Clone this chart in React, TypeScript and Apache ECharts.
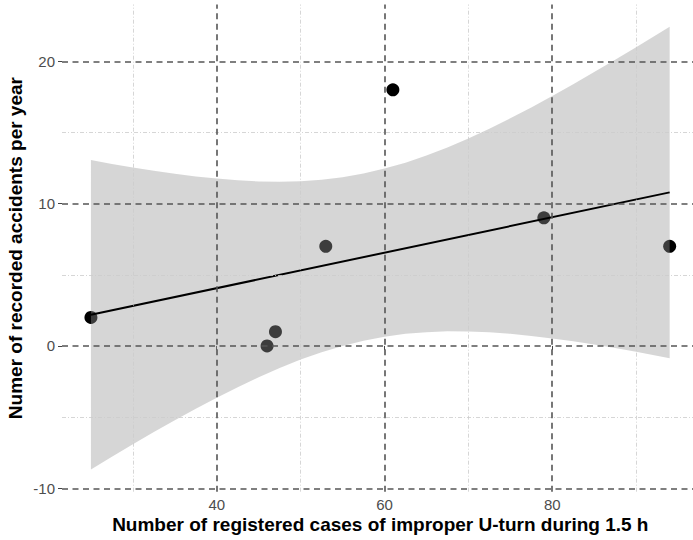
import React, { useEffect, useRef } from "react";
import * as echarts from "echarts";

// Observed points
const pointX = [25, 46, 47, 53, 61, 79, 94];
const pointY = [2, 0, 1, 7, 18, 9, 7];

// Fitted line end points
const fitX = [25, 94];
const fitY = [2.19, 10.79];

// Confidence band
const bandX = [25, 27.5, 30, 32.5, 35, 37.5, 40, 42.5, 45, 47.5, 50, 52.5, 55, 57.5, 60, 62.5, 65, 67.5, 70, 72.5, 75, 77.5, 80, 82.5, 85, 87.5, 90, 92, 94];
const bandLower = [-8.68, -7.79, -6.91, -6.05, -5.22, -4.41, -3.64, -2.9, -2.2, -1.55, -0.96, -0.44, 0.0, 0.36, 0.65, 0.85, 0.97, 1.03, 1.02, 0.96, 0.85, 0.7, 0.53, 0.33, 0.1, -0.15, -0.41, -0.63, -0.86];
const bandUpper = [13.06, 12.79, 12.54, 12.31, 12.1, 11.91, 11.76, 11.64, 11.56, 11.54, 11.58, 11.68, 11.86, 12.12, 12.46, 12.88, 13.38, 13.95, 14.58, 15.26, 15.99, 16.76, 17.56, 18.39, 19.24, 20.11, 20.99, 21.71, 22.43];

// Ticks / gridlines
const xMajor = [40, 60, 80];
const xMinor = [30, 50, 70, 90];
const yMajor = [-10, 0, 10, 20];
const yMinor = [-5, 5, 15];

const X_MIN = 21.55;
const X_MAX = 97.45;
const Y_MIN = -10.24;
const Y_MAX = 23.99;

export default function App() {
  const ref = useRef<HTMLDivElement>(null);
  useEffect(() => {
    if (!ref.current) return;
    const chart = echarts.init(ref.current, undefined, { renderer: "svg" });
    const font = "'Liberation Sans', Arial, Helvetica, sans-serif";
    const majorStyle = { color: "#555555", width: 1.6, type: [6, 4.5] as any };
    const minorStyle = { color: "#cccccc", width: 0.8, type: [4, 2, 1, 2] as any };
    const gridData: any[] = [];
    xMinor.forEach((v) => gridData.push({ xAxis: v, lineStyle: minorStyle }));
    yMinor.forEach((v) => gridData.push({ yAxis: v, lineStyle: minorStyle }));
    xMajor.forEach((v) => gridData.push({ xAxis: v, lineStyle: majorStyle }));
    yMajor.forEach((v) => gridData.push({ yAxis: v, lineStyle: majorStyle }));

    chart.setOption({
      animation: false,
      backgroundColor: "#ffffff",
      textStyle: { fontFamily: font },
      grid: { left: 62, top: 4.5, width: 636.6, height: 487.2, containLabel: false, outerBoundsMode: "none" },
      xAxis: {
        type: "value",
        min: X_MIN,
        max: X_MAX,
        axisLine: { show: false },
        splitLine: { show: false },
        axisTick: { show: true, length: 4, customValues: xMajor, lineStyle: { color: "#444", width: 1 } },
        axisLabel: { customValues: xMajor, color: "#4d4d4d", fontSize: 15, margin: 5, fontFamily: font },
        name: "Number of registered cases of improper U-turn during 1.5 h",
        nameLocation: "middle",
        nameGap: 23,
        nameMoveOverlap: false,
        nameTextStyle: { color: "#000", fontSize: 19, fontWeight: "bold", fontFamily: font },
      },
      yAxis: {
        type: "value",
        min: Y_MIN,
        max: Y_MAX,
        axisLine: { show: false },
        splitLine: { show: false },
        axisTick: { show: true, length: 4, customValues: yMajor, lineStyle: { color: "#444", width: 1 } },
        axisLabel: { customValues: yMajor, color: "#4d4d4d", fontSize: 15, margin: 7, fontFamily: font },
        name: "Numer of recorded accidents per year",
        nameLocation: "middle",
        nameGap: 37,
        nameMoveOverlap: false,
        nameTextStyle: { color: "#000", fontSize: 19, fontWeight: "bold", fontFamily: font },
      },
      series: [
        {
          type: "line",
          data: [],
          z: 0,
          silent: true,
          markLine: {
            silent: true,
            symbol: ["none", "none"],
            label: { show: false },
            animation: false,
            data: gridData,
          },
        },
        {
          type: "scatter",
          z: 2,
          symbolSize: 13,
          itemStyle: { color: "#000000", opacity: 1 },
          data: pointX.map((x, i) => [x, pointY[i]]),
        },
        {
          type: "custom",
          z: 3,
          silent: true,
          data: [0],
          renderItem: (params: any, api: any) => {
            const upper = bandX.map((x, i) => api.coord([x, bandUpper[i]]));
            const lower = bandX.map((x, i) => api.coord([x, bandLower[i]])).reverse();
            return {
              type: "polygon",
              shape: { points: upper.concat(lower) },
              style: { fill: "rgba(153,153,153,0.4)", stroke: "none" },
            };
          },
        },
        {
          type: "line",
          z: 4,
          symbol: "none",
          lineStyle: { color: "#000000", width: 2 },
          data: fitX.map((x, i) => [x, fitY[i]]),
        },
      ],
    });
    return () => chart.dispose();
  }, []);
  return <div ref={ref} style={{ width: 693, height: 540, position: "fixed", left: 0, top: 0 }} />;
}
